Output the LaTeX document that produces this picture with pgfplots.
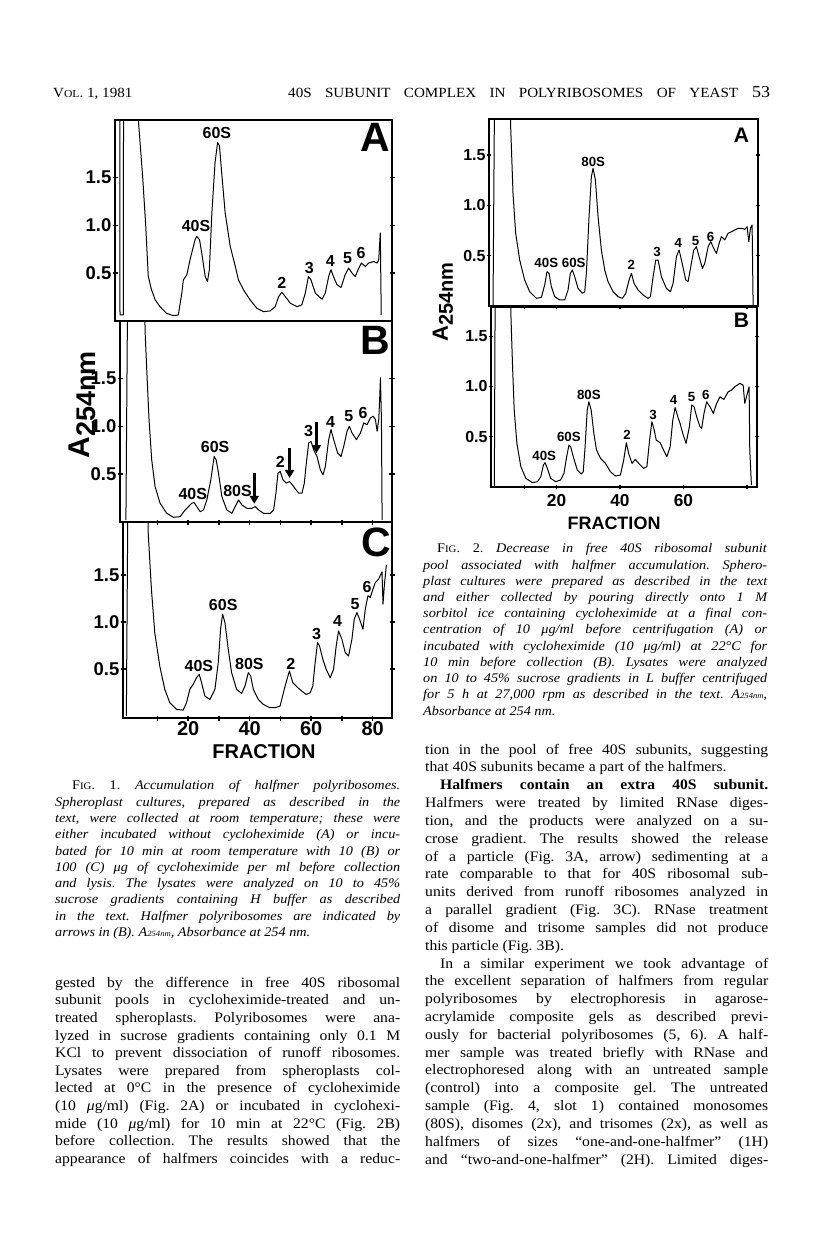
\documentclass[border=0pt]{standalone}
\usepackage{fontspec}
\usepackage{graphicx}
\usepackage{pgfplots}
\pgfplotsset{compat=1.18}
\usetikzlibrary{arrows.meta}
\setmainfont{Liberation Serif}[FakeStretch=1.08]
\newfontfamily\figfont{Liberation Sans}
\newcommand{\bodyfs}{\fontsize{14.5}{17.3}\selectfont}
\newcommand{\capfs}{\fontsize{13.2}{16}\selectfont}
\newcommand{\J}[2]{\makebox[#1pt][s]{#2}}
\newcommand{\FS}[1]{\figfont\bfseries\fontsize{#1}{#1}\selectfont}
\frenchspacing
\pgfplotsset{
  panel/.style={scale only axis, axis line style={line width=1.5pt},
    clip mode=individual, tick align=center,
    major tick length=5pt, tick style={line width=1.5pt, black},
    ytick={0.5,1,1.5}, yticklabels={0.5,1.0,1.5},
    yticklabel style={font=\FS{18.5}, inner sep=1pt},
    xtick=\empty, anchor=south west},
  panelb/.style={scale only axis, axis line style={line width=1.3pt},
    clip mode=individual, tick align=center,
    major tick length=4.5pt, tick style={line width=1.3pt, black},
    ytick={0.5,1,1.5}, yticklabels={0.5,1.0,1.5},
    yticklabel style={font=\FS{16}, inner sep=1pt},
    xtick=\empty, anchor=south west},
  trace/.style={black, line width=1pt, line join=round}
}
\tikzset{pk/.style={font=\FS{16}, inner sep=0pt, anchor=base},
         pks/.style={font=\FS{13.3}, inner sep=0pt, anchor=base},
         harrow/.style={-{Triangle[width=9pt,length=8pt]}, line width=2.7pt}}
\begin{document}
\begin{tikzpicture}
\path[use as bounding box, fill=white] (0pt,0pt) rectangle (816pt,-1253pt);

% ---------- header ----------
\node[anchor=base west, inner sep=0] at (53pt,-97pt) {\fontsize{14}{16}\selectfont V{\fontsize{10.7}{12}\selectfont OL}. 1, 1981};
\node[anchor=base west, inner sep=0] at (288pt,-97pt) {\fontsize{14}{16}\selectfont\J{450}{40S SUBUNIT COMPLEX IN POLYRIBOSOMES OF YEAST}};
\node[anchor=base west, inner sep=0] at (752pt,-97pt) {\fontsize{16.7}{18}\selectfont 53};

% ---------- Figure 1 ----------
\begin{axis}[panel, at={(115pt,-321pt)}, width=277pt, height=201pt,
  xmin=-1, xmax=86.5, ymin=0, ymax=2.1]
\addplot[trace] coordinates {(0.5,2.5) (0.58,0.063) (1.64,0.063) (1.7,2.5) (6.2,2.5) (6.38,2.1) (7.75,1.5) (8.7,1.0) (9.5,0.47) (10.5,0.33) (11.7,0.22) (13.2,0.15) (15.3,0.08) (17.4,0.056) (19,0.063) (20.1,0.29) (20.6,0.43) (21.7,0.483) (22.7,0.64) (24.3,0.85) (24.8,0.885) (25.7,0.85) (26.4,0.71) (27.5,0.465) (28.2,0.413) (28.8,0.535) (29.6,1.129) (30.6,1.654) (31.4,1.864) (32,1.829) (32.7,1.549) (33.8,1.129) (35.4,0.78) (37,0.57) (38,0.43) (39.6,0.325) (41.7,0.22) (43.8,0.133) (45.9,0.098) (48,0.105) (49.6,0.15) (50.7,0.255) (51.7,0.301) (52.8,0.255) (54.4,0.185) (56.5,0.15) (58,0.168) (59.1,0.29) (60.1,0.465) (60.9,0.43) (62.3,0.29) (64.4,0.227) (65.4,0.29) (66.5,0.465) (67.2,0.535) (68,0.465) (69.1,0.38) (70.4,0.35) (71.7,0.483) (72.8,0.552) (73.9,0.5) (74.9,0.465) (76,0.552) (76.8,0.605) (78.1,0.57) (79.1,0.605) (80.7,0.622) (81.8,0.605) (82.3,0.64) (82.8,0.92) (83.1,0.063)};
\node[pk] at (axis cs:31.2,1.91) {60S};
\node[pk] at (axis cs:24.6,0.93) {40S};
\node[pk] at (axis cs:51.7,0.34) {2};
\node[pk] at (axis cs:60.4,0.5) {3};
\node[pk] at (axis cs:67,0.57) {4};
\node[pk] at (axis cs:72.5,0.6) {5};
\node[pk] at (axis cs:76.7,0.65) {6};
\node[font=\FS{41}, inner sep=0] at (axis cs:81.2,1.92) {A};
\end{axis}

\begin{axis}[panel, at={(120pt,-522pt)}, width=272pt, height=201pt,
  xmin=-1, xmax=86.5, ymin=0, ymax=2.1]
\addplot[trace] coordinates {(0.9,0.02) (1.47,2.5) (6.9,2.5) (7.06,2.0) (7.6,1.594) (8.34,1.07) (9.2,0.65) (10.28,0.371) (11.89,0.196) (14.04,0.091) (16.19,0.049) (18.33,0.056) (19.95,0.126) (21.02,0.161) (22.09,0.196) (22.85,0.203) (23.7,0.161) (24.78,0.108) (25.85,0.126) (26.93,0.231) (28.22,0.441) (29.29,0.685) (29.93,0.65) (30.69,0.51) (31.76,0.266) (33.37,0.126) (34.98,0.091) (36.06,0.161) (37.13,0.231) (38.2,0.178) (39.82,0.143) (41.43,0.143) (42.5,0.161) (43.58,0.126) (45.19,0.091) (47.34,0.091) (48.41,0.126) (49.16,0.301) (49.81,0.51) (50.56,0.528) (51.42,0.441) (52.49,0.406) (53.56,0.423) (54.85,0.371) (56.47,0.301) (57.54,0.301) (58.29,0.406) (58.94,0.615) (59.69,0.825) (60.44,0.843) (61.3,0.755) (62.37,0.685) (63.45,0.545) (64.31,0.493) (65.06,0.58) (66.13,0.86) (66.88,0.965) (67.74,0.86) (69.03,0.72) (70.11,0.685) (70.97,0.79) (72.04,0.948) (72.79,1.0) (73.65,0.93) (75.05,0.86) (76.34,0.93) (77.41,1.035) (78.48,1.017) (79.56,1.087) (80.42,1.105) (81.17,1.07) (81.71,0.948) (82.24,1.07) (82.57,1.315) (82.78,1.507) (83.1,1.07) (83.32,0.02)};
\node[pk] at (axis cs:22.4,0.24) {40S};
\node[pk] at (axis cs:29.6,0.73) {60S};
\node[pk] at (axis cs:36.8,0.27) {80S};
\node[pk] at (axis cs:50.6,0.57) {2};
\node[pk] at (axis cs:59.7,0.89) {3};
\node[pk] at (axis cs:66.7,0.99) {4};
\node[pk] at (axis cs:72.6,1.05) {5};
\node[pk] at (axis cs:77.2,1.08) {6};
\draw[harrow] (axis cs:42.2,0.51) -- (axis cs:42.2,0.19);
\draw[harrow] (axis cs:53.56,0.77) -- (axis cs:53.56,0.46);
\draw[harrow] (axis cs:62.2,1.05) -- (axis cs:62.2,0.72);
\node[font=\FS{41}, inner sep=0] at (axis cs:81.2,1.9) {B};
\end{axis}

\begin{axis}[panel, at={(123pt,-718pt)}, width=269pt, height=196pt,
  xmin=-1.2, xmax=86.3, ymin=-0.02, ymax=2.06,
  xtick={10,20,30,40,50,60,70,80}, xticklabels={,20,,40,,60,,80},
  xticklabel style={font=\FS{20}, inner sep=1pt}]
\addplot[trace] coordinates {(-0.11,0) (0.43,2.5) (6.8,2.5) (6.96,1.968) (8.04,1.348) (9.13,0.887) (10.76,0.532) (12.39,0.284) (14.02,0.142) (16.2,0.071) (18.37,0.064) (19.46,0.142) (20.54,0.284) (21.63,0.337) (22.72,0.408) (23.59,0.443) (24.35,0.355) (25.43,0.213) (27.07,0.177) (28.7,0.284) (29.78,0.567) (30.54,0.922) (31.2,1.082) (31.96,0.993) (33.04,0.709) (34.13,0.461) (35.76,0.284) (37.39,0.241) (38.48,0.319) (39.57,0.461) (40.33,0.426) (41.2,0.284) (42.83,0.177) (44.46,0.124) (46.63,0.089) (48.26,0.089) (49.89,0.106) (51.52,0.319) (52.93,0.479) (54.02,0.355) (55.33,0.312) (56.96,0.266) (58.37,0.23) (59.67,0.248) (60.54,0.319) (61.3,0.567) (62.07,0.78) (62.72,0.745) (63.8,0.603) (64.89,0.496) (66.2,0.408) (67.28,0.496) (68.15,0.745) (68.91,0.904) (70.0,0.816) (71.09,0.674) (72.17,0.638) (73.26,0.816) (74.02,1.028) (74.89,1.099) (75.76,1.028) (76.85,0.922) (77.61,1.135) (78.48,1.277) (79.24,1.259) (80.11,1.348) (80.87,1.418) (81.96,1.454) (83.04,1.532) (83.37,1.188) (83.8,1.383) (84.46,1.603)};
\node[pk] at (axis cs:31.4,1.12) {60S};
\node[pk] at (axis cs:23.5,0.47) {40S};
\node[pk] at (axis cs:39.9,0.5) {80S};
\node[pk] at (axis cs:53.4,0.49) {2};
\node[pk] at (axis cs:61.8,0.81) {3};
\node[pk] at (axis cs:68.6,0.95) {4};
\node[pk] at (axis cs:74.3,1.13) {5};
\node[pk] at (axis cs:78.2,1.31) {6};
\node[font=\FS{41}, inner sep=0] at (axis cs:81.2,1.84) {C};
\end{axis}
\node[font=\FS{20}, inner sep=0] at (264pt,-752pt) {FRACTION};
\node[inner sep=0] at (82pt,-405pt) {\rotatebox{90}{\FS{30}A\raisebox{-6pt}{\FS{27}254nm}}};

% ---------- Figure 2 ----------
\begin{axis}[panelb, at={(489pt,-306pt)}, width=269pt, height=187pt,
  xmin=-0.88, xmax=83.5, ymin=0, ymax=1.858]
\addplot[trace] coordinates {(0.38,0) (0.9,2.3) (5.8,2.3) (5.92,1.781) (6.65,1.119) (7.49,0.722) (8.74,0.457) (10.31,0.258) (11.88,0.142) (13.97,0.076) (15.54,0.086) (16.59,0.209) (17.32,0.341) (17.95,0.325) (18.68,0.192) (19.73,0.093) (21.3,0.06) (22.87,0.06) (23.91,0.159) (24.64,0.325) (25.27,0.358) (26.0,0.291) (27.05,0.175) (28.41,0.126) (29.14,0.142) (29.67,0.325) (30.5,0.887) (31.23,1.285) (31.76,1.368) (32.49,1.252) (33.33,0.887) (34.37,0.556) (35.42,0.358) (36.46,0.242) (38.03,0.142) (39.6,0.093) (40.96,0.076) (42.01,0.126) (43.05,0.258) (43.79,0.325) (44.62,0.225) (45.88,0.159) (47.45,0.109) (49.02,0.076) (49.75,0.093) (50.59,0.291) (51.42,0.457) (52.15,0.457) (53.2,0.291) (54.77,0.175) (56.03,0.142) (56.86,0.225) (57.91,0.49) (58.74,0.556) (59.48,0.457) (60.84,0.258) (61.57,0.242) (62.41,0.391) (63.35,0.556) (64.18,0.589) (65.02,0.49) (66.07,0.374) (66.8,0.424) (67.85,0.589) (68.68,0.639) (69.62,0.573) (70.46,0.523) (71.3,0.623) (72.03,0.689) (73.08,0.656) (74.12,0.722) (75.17,0.738) (76.21,0.755) (77.26,0.772) (78.31,0.772) (79.35,0.762) (80.08,0.788) (80.61,0.639) (81.13,0.772) (81.65,0.805) (81.97,0)};
\node[pks] at (axis cs:31.8,1.39) {80S};
\node[pks] at (axis cs:17.1,0.38) {40S};
\node[pks] at (axis cs:25.7,0.38) {60S};
\node[pks] at (axis cs:43.8,0.36) {2};
\node[pks] at (axis cs:51.8,0.49) {3};
\node[pks] at (axis cs:58.5,0.58) {4};
\node[pks] at (axis cs:63.9,0.6) {5};
\node[pks] at (axis cs:68.6,0.64) {6};
\node[font=\FS{21}, inner sep=0] at (axis cs:78.3,1.7) {A};
\end{axis}

\begin{axis}[panelb, at={(491pt,-487pt)}, width=266pt, height=180pt,
  xmin=-0.67, xmax=83.2, ymin=0, ymax=1.79,
  xtick={10,20,40,60,80}, xticklabels={,20,40,60,},
  xticklabel style={font=\FS{17.3}, inner sep=1pt, yshift=-4pt}]
\addplot[trace] coordinates {(0.38,0) (0.69,2.3) (5.5,2.3) (5.61,1.709) (6.13,1.195) (6.65,0.765) (7.49,0.434) (8.74,0.202) (10.31,0.086) (12.41,0.043) (13.97,0.053) (15.02,0.103) (15.86,0.219) (16.38,0.242) (17.11,0.185) (18.16,0.086) (19.73,0.053) (21.3,0.07) (22.34,0.136) (23.18,0.301) (23.91,0.417) (24.44,0.401) (25.27,0.301) (26.53,0.169) (27.78,0.129) (28.41,0.152) (28.93,0.368) (29.67,0.765) (30.19,0.848) (30.92,0.765) (31.76,0.533) (32.59,0.368) (33.85,0.285) (35.42,0.235) (36.99,0.152) (38.56,0.109) (40.13,0.119) (41.17,0.268) (42.01,0.44) (42.74,0.334) (43.79,0.235) (44.83,0.275) (45.88,0.235) (47.45,0.185) (48.49,0.202) (49.33,0.467) (50.06,0.649) (50.79,0.566) (51.42,0.467) (52.68,0.44) (53.72,0.368) (54.77,0.301) (55.82,0.401) (56.65,0.665) (57.38,0.791) (58.22,0.699) (58.95,0.632) (59.79,0.533) (60.84,0.434) (61.88,0.599) (62.62,0.815) (63.35,0.798) (64.18,0.699) (65.23,0.599) (65.75,0.583) (66.49,0.732) (67.32,0.848) (68.37,0.798) (69.41,0.732) (70.46,0.831) (71.51,0.897) (72.76,0.871) (74.12,0.947) (75.17,0.964) (76.21,0.997) (77.78,1.03) (78.83,1.013) (79.35,0.831) (79.87,0.897) (80.71,0.997) (80.92,0.368) (81.44,0.02)};
\node[pks] at (axis cs:30.2,0.87) {80S};
\node[pks] at (axis cs:23.9,0.45) {60S};
\node[pks] at (axis cs:16.1,0.26) {40S};
\node[pks] at (axis cs:42.2,0.47) {2};
\node[pks] at (axis cs:50.4,0.67) {3};
\node[pks] at (axis cs:56.9,0.82) {4};
\node[pks] at (axis cs:62.6,0.85) {5};
\node[pks] at (axis cs:67.1,0.87) {6};
\node[font=\FS{21}, inner sep=0] at (axis cs:78.3,1.66) {B};
\end{axis}
\node[font=\FS{18}, inner sep=0] at (614pt,-523pt) {FRACTION};
\node[inner sep=0] at (443pt,-302pt) {\rotatebox{90}{\FS{22}A\raisebox{-5pt}{\FS{20}254nm}}};

% ---------- Fig. 1 caption ----------
\begin{scope}[every node/.style={anchor=base west, inner sep=0}]
\node at (72pt,-789pt) {\capfs\J{328}{F{\fontsize{10}{12}\selectfont IG}. 1. \textit{Accumulation of halfmer polyribosomes.}}};
\node at (55pt,-806pt) {\capfs\itshape\J{345}{Spheroplast cultures, prepared as described in the}};
\node at (55pt,-822pt) {\capfs\itshape\J{345}{text, were collected at room temperature; these were}};
\node at (55pt,-838pt) {\capfs\itshape\J{345}{either incubated without cycloheximide (A) or incu-}};
\node at (55pt,-855pt) {\capfs\itshape\J{345}{bated for 10 min at room temperature with 10 (B) or}};
\node at (55pt,-871pt) {\capfs\itshape\J{345}{100 (C) μg of cycloheximide per ml before collection}};
\node at (55pt,-887pt) {\capfs\itshape\J{345}{and lysis. The lysates were analyzed on 10 to 45\%}};
\node at (55pt,-903pt) {\capfs\itshape\J{345}{sucrose gradients containing H buffer as described}};
\node at (55pt,-920pt) {\capfs\itshape\J{345}{in the text. Halfmer polyribosomes are indicated by}};
\node at (55pt,-936pt) {\capfs\itshape arrows in (B). A{\fontsize{8}{9}\selectfont 254nm}, Absorbance at 254 nm.};

% ---------- column 1 body ----------
\node at (55pt,-987.3pt) {\bodyfs\J{345}{gested by the difference in free 40S ribosomal}};
\node at (55pt,-1004.9pt) {\bodyfs\J{345}{subunit pools in cycloheximide-treated and un-}};
\node at (55pt,-1022.5pt) {\bodyfs\J{345}{treated spheroplasts. Polyribosomes were ana-}};
\node at (55pt,-1040.1pt) {\bodyfs\J{345}{lyzed in sucrose gradients containing only 0.1 M}};
\node at (55pt,-1057.7pt) {\bodyfs\J{345}{KCl to prevent dissociation of runoff ribosomes.}};
\node at (55pt,-1075.3pt) {\bodyfs\J{345}{Lysates were prepared from spheroplasts col-}};
\node at (55pt,-1092.9pt) {\bodyfs\J{345}{lected at 0°C in the presence of cycloheximide}};
\node at (55pt,-1110.5pt) {\bodyfs\J{345}{(10 \textit{μ}g/ml) (Fig. 2A) or incubated in cyclohexi-}};
\node at (55pt,-1128.1pt) {\bodyfs\J{345}{mide (10 \textit{μ}g/ml) for 10 min at 22°C (Fig. 2B)}};
\node at (55pt,-1145.7pt) {\bodyfs\J{345}{before collection. The results showed that the}};
\node at (55pt,-1163.3pt) {\bodyfs\J{345}{appearance of halfmers coincides with a reduc-}};

% ---------- Fig. 2 caption ----------
\node at (437pt,-552pt) {\capfs\J{330}{F{\fontsize{10}{12}\selectfont IG}. 2. \textit{Decrease in free 40S ribosomal subunit}}};
\node at (423pt,-569pt) {\capfs\itshape\J{344}{pool associated with halfmer accumulation. Sphero-}};
\node at (423pt,-585pt) {\capfs\itshape\J{344}{plast cultures were prepared as described in the text}};
\node at (423pt,-601pt) {\capfs\itshape\J{344}{and either collected by pouring directly onto 1 M}};
\node at (423pt,-617pt) {\capfs\itshape\J{344}{sorbitol ice containing cycloheximide at a final con-}};
\node at (423pt,-633pt) {\capfs\itshape\J{344}{centration of 10 μg/ml before centrifugation (A) or}};
\node at (423pt,-650pt) {\capfs\itshape\J{344}{incubated with cycloheximide (10 μg/ml) at 22°C for}};
\node at (423pt,-666pt) {\capfs\itshape\J{344}{10 min before collection (B). Lysates were analyzed}};
\node at (423pt,-682pt) {\capfs\itshape\J{344}{on 10 to 45\% sucrose gradients in L buffer centrifuged}};
\node at (423pt,-698pt) {\capfs\itshape\J{344}{for 5 h at 27,000 rpm as described in the text. A{\fontsize{8}{9}\selectfont 254nm},}};
\node at (423pt,-715pt) {\capfs\itshape Absorbance at 254 nm.};

% ---------- column 2 body ----------
\node at (425pt,-754.0pt) {\bodyfs\J{343}{tion in the pool of free 40S subunits, suggesting}};
\node at (425pt,-771.8pt) {\bodyfs that 40S subunits became a part of the halfmers.};
\node at (440pt,-789.7pt) {\bodyfs\J{328}{\bfseries Halfmers contain an extra 40S subunit.}};
\node at (425pt,-807.5pt) {\bodyfs\J{343}{Halfmers were treated by limited RNase diges-}};
\node at (425pt,-825.3pt) {\bodyfs\J{343}{tion, and the products were analyzed on a su-}};
\node at (425pt,-843.2pt) {\bodyfs\J{343}{crose gradient. The results showed the release}};
\node at (425pt,-861.0pt) {\bodyfs\J{343}{of a particle (Fig. 3A, arrow) sedimenting at a}};
\node at (425pt,-878.8pt) {\bodyfs\J{343}{rate comparable to that for 40S ribosomal sub-}};
\node at (425pt,-896.6pt) {\bodyfs\J{343}{units derived from runoff ribosomes analyzed in}};
\node at (425pt,-914.5pt) {\bodyfs\J{343}{a parallel gradient (Fig. 3C). RNase treatment}};
\node at (425pt,-932.3pt) {\bodyfs\J{343}{of disome and trisome samples did not produce}};
\node at (425pt,-950.1pt) {\bodyfs this particle (Fig. 3B).};
\node at (440pt,-968.0pt) {\bodyfs\J{328}{In a similar experiment we took advantage of}};
\node at (425pt,-985.8pt) {\bodyfs\J{343}{the excellent separation of halfmers from regular}};
\node at (425pt,-1003.6pt) {\bodyfs\J{343}{polyribosomes by electrophoresis in agarose-}};
\node at (425pt,-1021.5pt) {\bodyfs\J{343}{acrylamide composite gels as described previ-}};
\node at (425pt,-1039.3pt) {\bodyfs\J{343}{ously for bacterial polyribosomes (5, 6). A half-}};
\node at (425pt,-1057.1pt) {\bodyfs\J{343}{mer sample was treated briefly with RNase and}};
\node at (425pt,-1074.9pt) {\bodyfs\J{343}{electrophoresed along with an untreated sample}};
\node at (425pt,-1092.8pt) {\bodyfs\J{343}{(control) into a composite gel. The untreated}};
\node at (425pt,-1110.6pt) {\bodyfs\J{343}{sample (Fig. 4, slot 1) contained monosomes}};
\node at (425pt,-1128.4pt) {\bodyfs\J{343}{(80S), disomes (2x), and trisomes (2x), as well as}};
\node at (425pt,-1146.2pt) {\bodyfs\J{343}{halfmers of sizes “one-and-one-halfmer” (1H)}};
\node at (425pt,-1164.1pt) {\bodyfs\J{343}{and “two-and-one-halfmer” (2H). Limited diges-}};
\end{scope}
\end{tikzpicture}
\end{document}
